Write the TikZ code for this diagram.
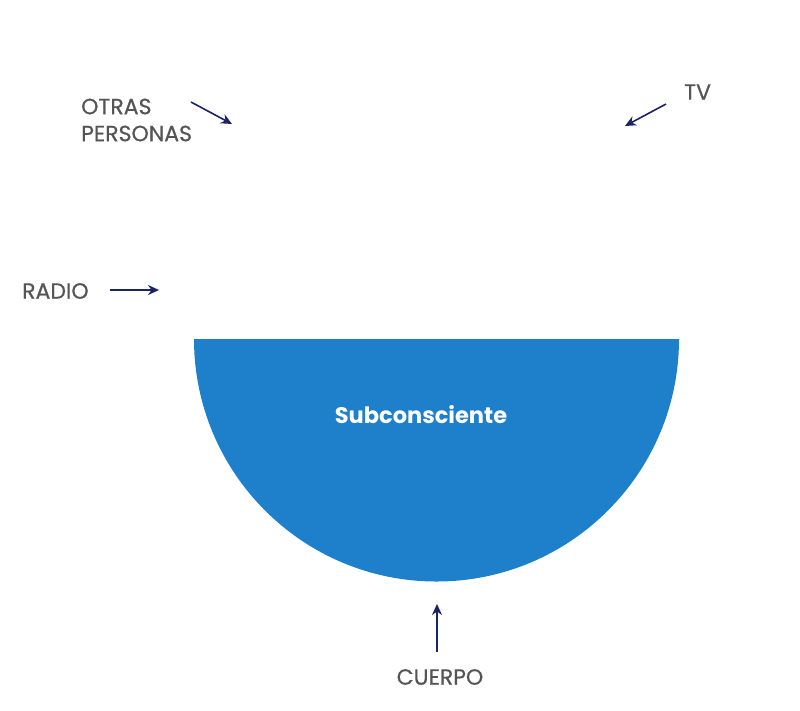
\documentclass[tikz,border=0pt]{standalone}
\usepackage{fontspec}
\setmainfont{Poppins}
\newfontfamily\labelfont[FakeBold=0.6]{Poppins}
\usetikzlibrary{arrows.meta}
\definecolor{discblue}{HTML}{1E7FCB}
\definecolor{labelgray}{HTML}{555555}
\definecolor{arrownavy}{HTML}{1C2266}
\tikzset{
  lbl/.style={text=labelgray, font=\labelfont\fontsize{22}{27}\selectfont, inner sep=0pt},
  pointer/.style={draw=arrownavy, line width=1.6pt, -{Stealth[length=11pt,width=10pt]}},
}
\begin{document}
\begin{tikzpicture}[x=1pt,y=-1pt]
\useasboundingbox (0,0) rectangle (800,710);
% half disc
\fill[discblue] (194,339) -- (679,339) arc[start angle=0,end angle=180,radius=242.5] -- cycle;
\node[text=white, font=\fontsize{22.5}{26}\selectfont\bfseries, inner sep=0pt] (sub) at (421,415) {Subconsciente};
% labels
\node[lbl, anchor=west, align=left] (otras) at (81,120) {OTRAS\\PERSONAS};
\node[lbl, anchor=west] (tv) at (684,92) {TV};
\node[lbl, anchor=west] (radio) at (22,291) {RADIO};
\node[lbl] (cuerpo) at (440,677) {CUERPO};
% arrow ends
\coordinate (o1) at (191,102); \coordinate (o2) at (232,124);
\coordinate (t1) at (666,104); \coordinate (t2) at (625,126);
\coordinate (r1) at (110,290); \coordinate (r2) at (159,290);
\coordinate (c1) at (437,652); \coordinate (c2) at (437,604);
\draw[pointer] (o1) -- (o2);
\draw[pointer] (t1) -- (t2);
\draw[pointer] (r1) -- (r2);
\draw[pointer] (c1) -- (c2);
\end{tikzpicture}
\end{document}
